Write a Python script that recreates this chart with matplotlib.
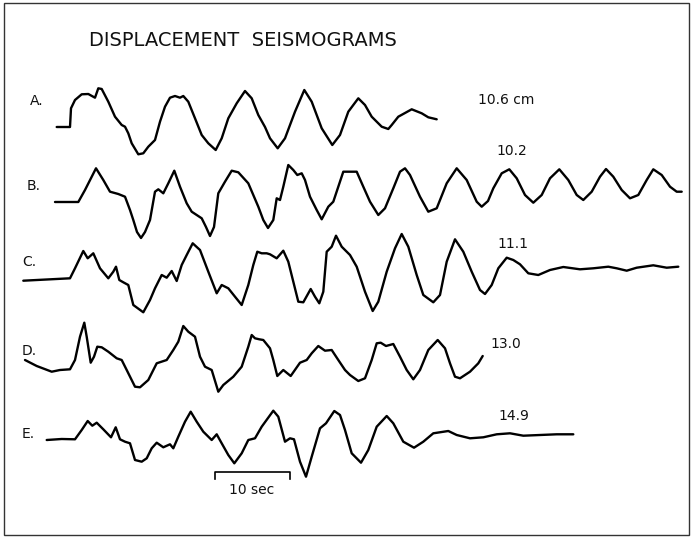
import matplotlib
matplotlib.use("Agg")
import matplotlib.pyplot as plt
from matplotlib.patches import Rectangle

# ---- data (time in plot units: 75 units = 10 s; displacement in plot units, up positive)
trace_names = ["A.", "B.", "C.", "D.", "E."]
amp_labels = ["10.6 cm", "10.2", "11.1", "13.0", "14.9"]

tA = [56.7, 70, 71, 75, 81.7, 88.3, 95, 98.3, 101.7, 108.3, 115, 121.7, 125, 128.3, 131.7,
      138.3, 143.3, 148.3, 155, 160, 165, 170, 175, 180, 183.3, 188.3, 195, 201.7, 208.3,
      215.7, 221.7, 228.3, 236.7, 245, 251.7, 258.3, 265, 270, 277.7, 285, 295, 304.3,
      311.7, 321.7, 332.3, 340, 348.3, 358.3, 365, 371.7, 381.7, 388.3, 391.7, 398.3,
      411.7, 421.7, 428.3, 436.7]
dA = [0, 0, 18.7, 27, 32.7, 33, 29.3, 38.7, 38, 25.3, 10.3, 2, 0.3, -6.3, -16.3,
      -27.3, -26.3, -19.7, -13, 5.3, 20.3, 29.3, 31, 29.3, 31, 25.3, 8.7, -8, -16.3,
      -23, -11.3, 8.7, 23.7, 36, 28.7, 12, 0, -11.3, -21.3, -11.3, 15.3, 37,
      25.3, -1.3, -18, -8, 15.3, 28.7, 22, 10.3, 0.3, -2, 2, 10.3,
      17.7, 13.7, 9.7, 7.7]

tB = [55, 78.3, 85, 96, 103.3, 110, 118.3, 125, 130, 133.3, 137, 141, 145, 150, 155, 158.3,
      163.3, 168.3, 174.3, 180, 186.7, 191.7, 201.7, 206, 210, 214, 218.3, 225, 231.7,
      238.3, 248.3, 258.3, 263.3, 268, 273.3, 276.7, 280, 283.3, 288.3, 293.3, 297.3,
      301.7, 305, 310, 316.7, 321.7, 328.3, 333.3, 338.3, 343.3, 356.7, 363.3, 370,
      378.3, 385, 393.3, 400, 405, 410, 420, 428.3, 436.7, 446.7, 456.7, 466.7, 476.7,
      481.7, 488, 493.3, 501.7, 509.3, 516.7, 525, 533.3, 541.7, 550, 559.3, 568.3,
      576.7, 583.3, 591.7, 600, 606, 613.3, 621.7, 630, 638.3, 646.7, 653.3, 661.7,
      670, 676.7, 681.7]
dB = [0, 0, 12, 33.7, 22, 10.3, 8, 5.3, -8, -18, -30, -36, -30, -18, 10.3, 12.7,
      8.7, 18.7, 31.3, 15.3, -1.3, -9.7, -16.3, -25, -34, -25, 8.7, 20.3, 31.3,
      29.7, 18.7, -4.7, -18, -26, -18, 3.7, 2, 15.3, 37, 32, 27,
      28.7, 22, 5.3, -8, -17.3, -4.7, 0.3, 15.3, 30.3, 30.3, 15.3, 0.3,
      -13, -6.3, 13.7, 30.3, 33.7, 27, 5.3, -9.7, -6.3, 18.7, 33.7, 22, 0.3,
      -4.7, 1, 13.7, 28.7, 32.7, 23.7, 7, -0.7, 7, 23.7, 32.7, 22,
      7, 2, 10.3, 25.3, 33, 25.3, 12, 3.7, 7, 22, 32.7, 27,
      15.3, 10.3, 10.3]

tC = [23.3, 70, 75, 83.3, 87.7, 93.3, 100, 108.3, 113.3, 116, 119.3, 123.3, 128.3, 133.3,
      143.3, 150, 155, 161.7, 166.7, 171.7, 176.7, 181.7, 186.7, 192.7, 200, 208.3,
      216.7, 221.7, 228.3, 235, 241.7, 248.3, 253.3, 257.3, 261.7, 266.7, 270, 276.7,
      283.3, 288.3, 293.3, 298.3, 303.3, 310.7, 315, 319.3, 323.3, 326.7, 331.7, 336,
      341.7, 350, 356.7, 365, 372.7, 378.3, 386.7, 395, 401.7, 408.3, 416.7, 423.3,
      433.3, 440, 446.7, 455, 463.3, 471.7, 480, 485, 491.7, 498.3, 506.7, 513.3, 520,
      528.3, 538.3, 550, 563.3, 580, 593.3, 608.3, 616.7, 626.7, 636.7, 653.3, 666.7,
      678.3]
dC = [-1.7, 0.7, 10.7, 28, 20.7, 25.7, 10.7, 0.7, 7.3, 12.3, -1, -3.3, -6, -26,
      -33.3, -21, -9.3, 4, 1.3, 8, -2, 14, 24, 35.7, 29, 7.3,
      -14.3, -6, -9.3, -17.7, -26, -6, 14, 27.3, 25.7, 25.7, 24.7, 20.7,
      28.3, 17.3, -2.7, -22.7, -23.3, -10, -17.7, -24.3, -12.7, 27.3, 32.3, 43.3,
      32.3, 24, 12.3, -12.7, -32, -22.7, 7.3, 30.7, 45, 32.3, 4, -16,
      -23.3, -16, 17.3, 39.7, 27.3, 7.3, -11, -15, -6, 10.7, 21.3, 19, 14.7,
      5.7, 4, 9, 12, 9.7, 10.7, 12.3, 10.7, 8.3, 11.3, 13.7, 11.3,
      12.3]

tD = [25, 36.7, 51.7, 60, 70, 75, 80, 84.3, 86.7, 90.7, 94, 97.3, 101.7, 108.3, 116.7,
      121.7, 126.7, 135, 140, 148.3, 156.7, 166.7, 173.3, 178.3, 183.3, 188.3, 195, 200,
      205, 211.7, 218.3, 223.3, 233.3, 241.7, 248.3, 251.7, 255, 259.3, 263.3, 270,
      273.3, 277.3, 283.3, 290.7, 300, 306.7, 311.7, 318.3, 325, 331.7, 338.3, 345, 350,
      358.3, 365, 371.7, 376.7, 380.7, 386, 393.3, 400, 406.7, 413.3, 420, 428.3, 437.7,
      445, 450, 455, 460, 470, 478.3, 482.7]
dD = [6, 0, -5.7, -4, -3.3, 6, 29.3, 43.3, 29.3, 3.3, 9.3, 19.3, 18.7, 14.3, 7.7,
      6, -4, -20.7, -21.3, -14, 2.7, 6, 16, 24.3, 40, 34.3, 29.3, 9.3,
      -0.7, -4, -25.7, -19, -10.7, -0.7, 19.3, 31, 27.7, 26.7, 26, 17.7,
      6, -10, -4, -10, 3.3, 6, 12.7, 20, 15.3, 16, 6, -4, -9,
      -15, -12.3, 6, 22.7, 23.3, 20, 22, 9.3, -4, -13.3, -4, 16, 26,
      17.7, 2.7, -10.7, -12.3, -5.7, 2.7, 10]

tE = [46.7, 61.7, 75, 81.7, 87.7, 92.3, 96.7, 103.3, 111, 115.7, 120, 125, 130, 135,
      141.7, 146.7, 151.7, 156.7, 163.3, 170, 173.3, 178.3, 185, 190.7, 196.7, 203.3,
      211.7, 216.7, 221.7, 228.3, 234.3, 241.7, 248.3, 255, 261.7, 273.3, 278.3, 285,
      290, 294, 300, 306, 311.7, 320, 326, 334.3, 340, 345, 351.7, 361, 368.3, 376.7,
      386.7, 393.3, 403.3, 414, 423.3, 433.3, 448.3, 456.7, 470, 483.3, 496.7, 510,
      523.3, 540, 556.7, 573.3]
dE = [-1, 0, -0.3, 9, 18, 13.3, 16.3, 9.7, 1.7, 11.7, -0.3, -2.7, -4.3, -21,
      -22.7, -19.3, -9.3, -3.7, -8.3, -5.3, -9.3, 2.3, 17.3, 27.3, 17.3, 7.3,
      -1, 4.7, -4.3, -16, -24.3, -14.3, -1, 0.7, 12.3, 28.3, 22.3, -2.7,
      0.7, -0.3, -22.7, -37.7, -17.7, 10.7, 15.7, 28, 24, 9, -14.3, -23.7, -11, 12.3,
      23, 15.7, -2.7, -8.7, -2.7, 5.7, 8, 4, 0.7, 1.7, 4.7, 5.7,
      3.3, 4, 4.7, 4.7]

times = [tA, tB, tC, tD, tE]
disps = [dA, dB, dC, dD, dE]

# ---- layout
W, H = 693, 539
baselines = [127, 202, 279, 366, 439]
name_pos = [(30, 101), (27, 186), (22, 262), (22, 351), (22, 434)]
amp_pos = [(478, 100), (496, 151), (497, 244), (490, 344), (498, 416)]

fig = plt.figure(figsize=(W / 100, H / 100), dpi=100)
ax = fig.add_axes([0, 0, 1, 1])
ax.set_xlim(0, W)
ax.set_ylim(H, 0)
ax.axis("off")

ax.add_patch(Rectangle((4, 3), 685, 532, fill=False, lw=1.0, ec="#333333"))

ax.text(243, 40, "DISPLACEMENT  SEISMOGRAMS", ha="center", va="center",
        fontsize=14, fontfamily="DejaVu Sans", color="#111111")

for t, d, b, nm, npos, al, apos in zip(times, disps, baselines, trace_names, name_pos,
                                       amp_labels, amp_pos):
    ax.plot(t, [b - v for v in d], color="black", lw=1.7, solid_joinstyle="round",
            solid_capstyle="round")
    ax.text(npos[0], npos[1], nm, ha="left", va="center", fontsize=10, color="#111111")
    ax.text(apos[0], apos[1], al, ha="left", va="center", fontsize=10, color="#111111")

# scale bar (10 s = 75 units)
ax.plot([215, 215, 290, 290], [479, 472, 472, 479], color="black", lw=1.2)
ax.text(252, 490, "10 sec", ha="center", va="center", fontsize=10, color="#111111")

fig.savefig("out.png", dpi=100)
